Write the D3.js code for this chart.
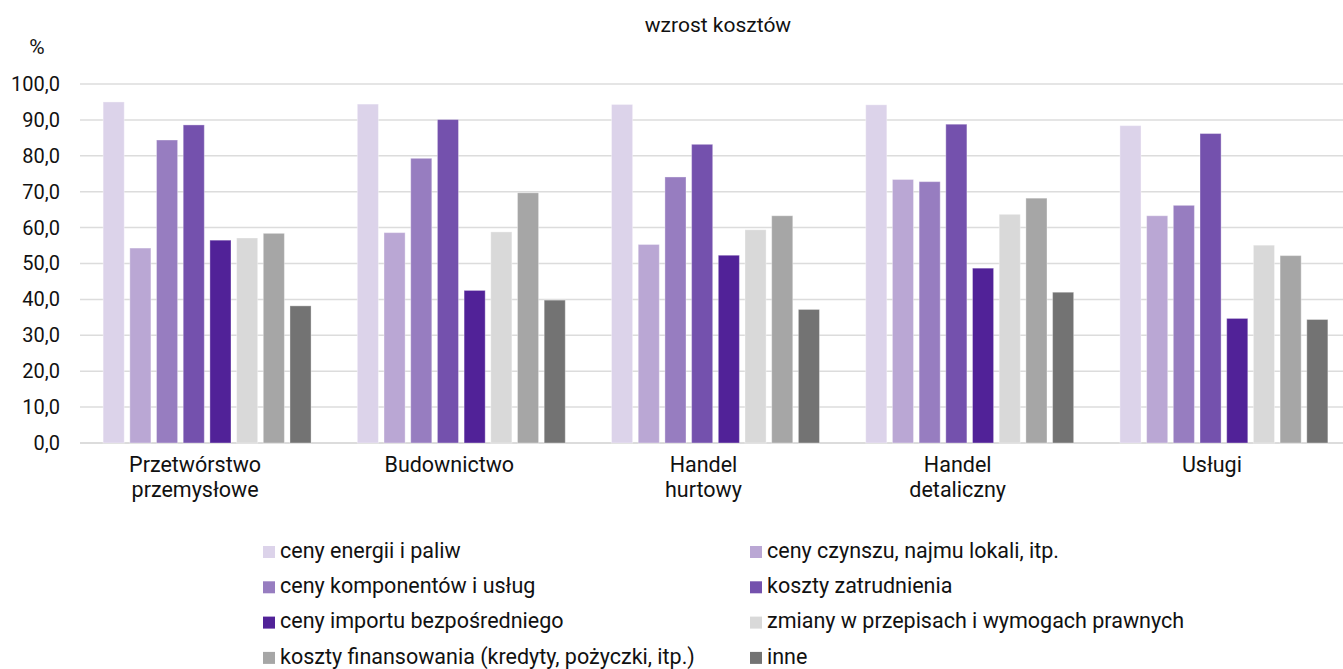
<!DOCTYPE html>
<html><head><meta charset="utf-8">
<script src="https://cdn.jsdelivr.net/npm/d3@7"></script>
<style>
body{margin:0;background:#fff;}
text{font-family:Roboto,"Fira Sans",sans-serif;fill:#111;}
</style></head>
<body><svg id="c" width="1343" height="669"></svg>
<script>
const categories = [["Przetwórstwo","przemysłowe"],["Budownictwo"],["Handel","hurtowy"],["Handel","detaliczny"],["Usługi"]];
const seriesNames = ["ceny energii i paliw","ceny czynszu, najmu lokali, itp.","ceny komponentów i usług","koszty zatrudnienia","ceny importu bezpośredniego","zmiany w przepisach i wymogach prawnych","koszty finansowania (kredyty, pożyczki, itp.)","inne"];
// values[series][category]
const energia      = [95.0, 94.4, 94.3, 94.2, 88.4];
const czynsz       = [54.3, 58.6, 55.3, 73.4, 63.3];
const komponenty   = [84.4, 79.3, 74.1, 72.8, 66.2];
const zatrudnienie = [88.6, 90.1, 83.2, 88.8, 86.2];
const importB      = [56.5, 42.5, 52.3, 48.7, 34.7];
const przepisy     = [57.1, 58.8, 59.4, 63.7, 55.1];
const finansowanie = [58.4, 69.7, 63.3, 68.2, 52.2];
const inne         = [38.2, 39.8, 37.2, 42.0, 34.4];
const values = [energia, czynsz, komponenty, zatrudnienie, importB, przepisy, finansowanie, inne];
const yTicks = [0,10,20,30,40,50,60,70,80,90,100];
const colors = ["#DCD3EA","#BAA7D4","#977DC0","#7451AD","#512298","#D9D9D9","#A6A6A6","#737373"];

const svg = d3.select("#c");
const pLeft = 80, pRight = 1351, pTop = 84, pBottom = 443;
const x0 = d3.scaleBand().domain(d3.range(categories.length)).range([pLeft,pRight]).paddingInner(0.182).paddingOuter(0.091);
const x1 = d3.scaleBand().domain(d3.range(seriesNames.length)).range([0,x0.bandwidth()]).paddingInner(0.21).paddingOuter(0);
const y = d3.scaleLinear().domain([0,100]).range([pBottom,pTop]);

// gridlines
svg.append("g").selectAll("line").data(yTicks).join("line")
  .attr("x1",pLeft).attr("x2",1343).attr("y1",d=>y(d)).attr("y2",d=>y(d))
  .attr("stroke",d=>d===0?"#d0d0d0":"#dcdcdc").attr("stroke-width",1.5);

// y axis labels
const yAxis = d3.axisLeft(y).tickValues(yTicks).tickSize(0).tickPadding(0)
  .tickFormat(d=>d3.format(".1f")(d).replace(".",","));
const ya = svg.append("g").attr("transform","translate(60,0)").call(yAxis);
ya.select(".domain").remove();
ya.selectAll("text").style("font-family","Roboto,sans-serif").style("font-size","20px").attr("fill","#111");

svg.append("text").attr("x",37).attr("y",48).attr("text-anchor","middle").attr("dominant-baseline","middle").style("font-size","21px").text("%");
svg.append("text").attr("x",718).attr("y",26).attr("text-anchor","middle").attr("dominant-baseline","middle").style("font-size","21px").text("wzrost kosztów");

// bars
const g = svg.append("g");
values.forEach((arr,si)=>{
  g.append("g").selectAll("rect").data(arr).join("rect")
   .attr("x",(d,ci)=>x0(ci)+x1(si)).attr("width",x1.bandwidth())
   .attr("y",d=>y(d)).attr("height",d=>y(0)-y(d))
   .attr("fill",colors[si]).attr("stroke","rgba(255,255,255,0.35)").attr("stroke-width",1);
});

// category labels
const xl = svg.append("g");
categories.forEach((lines,ci)=>{
  const cx = x0(ci)+x0.bandwidth()/2-12;
  const t = xl.append("text").attr("text-anchor","middle").style("font-size","21.5px")
    .attr("x",cx).attr("y",472);
  lines.forEach((l,i)=>t.append("tspan").attr("x",cx).attr("dy",i?25:0).text(l));
});

// legend
const lg = svg.append("g");
seriesNames.forEach((n,i)=>{
  const col = i%2, row = Math.floor(i/2);
  const lx = col?750:263, ly = 552+row*35.3;
  lg.append("rect").attr("x",lx).attr("y",ly-6).attr("width",12).attr("height",12).attr("fill",colors[i]);
  lg.append("text").attr("x",lx+17).attr("y",ly).attr("dominant-baseline","middle").style("font-size","21.5px").text(n);
});
</script></body></html>
